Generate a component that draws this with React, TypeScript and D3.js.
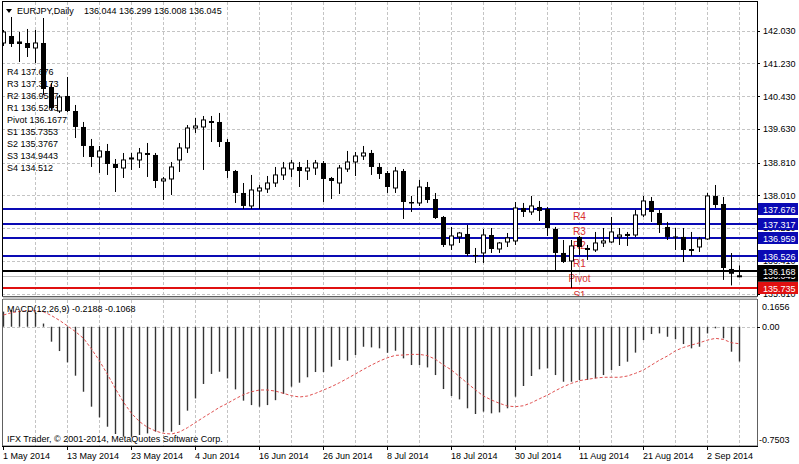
import React, { useEffect, useRef } from 'react';
import * as d3 from 'd3';

// daily EURJPY candles, 1 May 2014 .. 8 Sep 2014
const opens = [
  141.730, 141.901, 141.767, 141.730, 141.608, 141.730, 140.655, 140.069, 140.436, 140.069,
  139.679, 139.215, 138.946, 139.093, 138.775, 138.677, 138.897, 138.873, 139.044, 138.995,
  138.360, 138.409, 138.873, 139.166, 139.654, 139.679, 139.825, 139.801, 139.312, 138.604,
  138.067, 137.750, 138.116, 138.165, 138.311, 138.507, 138.653, 138.702, 138.604, 138.677,
  138.800, 138.433, 138.311, 138.653, 138.824, 138.970, 139.044, 138.702, 138.555, 138.189,
  138.604, 137.847, 137.823, 138.213, 137.920, 137.481, 136.797, 136.993, 137.066, 136.553,
  136.602, 137.041, 136.699, 136.870, 136.895, 137.701, 137.603, 137.725, 137.676, 137.188,
  136.602, 136.406, 136.993, 136.724, 136.675, 136.846, 136.870, 136.993, 137.029, 137.041,
  137.530, 137.872, 137.578, 137.237, 137.005, 136.993, 136.699, 136.748, 136.944, 137.994,
  137.798, 136.211, 136.044,
];
const highs = [
  142.047, 142.365, 141.999, 142.072, 142.047, 142.340, 140.753, 140.460, 140.900, 140.216,
  139.801, 139.386, 139.215, 139.264, 138.897, 139.044, 139.044, 139.166, 139.288, 139.044,
  138.458, 138.824, 139.288, 139.727, 139.898, 139.947, 139.947, 140.021, 139.386, 138.629,
  138.311, 138.507, 138.262, 138.482, 138.702, 138.824, 138.873, 138.824, 138.873, 138.873,
  138.848, 138.458, 138.751, 139.093, 139.068, 139.215, 139.117, 138.800, 138.604, 138.702,
  138.653, 137.994, 138.384, 138.336, 138.067, 137.505, 137.237, 137.115, 137.285, 136.724,
  137.188, 137.212, 136.870, 137.090, 137.847, 137.823, 137.994, 137.872, 137.725, 137.237,
  136.919, 136.919, 137.017, 136.797, 137.115, 137.212, 137.481, 137.212, 137.115, 137.652,
  137.994, 137.969, 137.652, 137.359, 137.212, 137.212, 137.115, 136.993, 138.067, 138.262,
  137.969, 136.600, 136.299,
];
const lows = [
  141.657, 141.632, 141.266, 141.388, 141.242, 140.460, 140.094, 140.021, 140.045, 139.410,
  138.946, 138.702, 138.555, 138.507, 138.091, 138.433, 138.629, 138.677, 138.458, 138.189,
  137.896, 138.018, 138.580, 139.044, 139.532, 138.629, 139.312, 139.190, 138.433, 137.823,
  137.676, 137.676, 137.676, 138.067, 138.213, 138.384, 138.458, 138.213, 138.384, 138.507,
  137.847, 137.920, 138.043, 138.580, 138.482, 138.873, 138.507, 138.409, 138.067, 138.067,
  137.432, 137.603, 137.750, 137.823, 137.432, 136.748, 136.675, 136.846, 136.528, 136.358,
  136.358, 136.602, 136.602, 136.748, 136.797, 137.481, 137.530, 137.383, 137.017, 136.138,
  136.358, 135.747, 136.553, 136.431, 136.626, 136.748, 136.846, 136.797, 136.773, 136.993,
  137.481, 137.359, 137.090, 136.919, 136.675, 136.382, 136.528, 136.626, 136.919, 137.701,
  135.944, 135.809, 136.008,
];
const closes = [
  141.999, 141.706, 141.706, 141.608, 141.730, 140.607, 140.143, 140.411, 140.069, 139.679,
  139.215, 138.946, 139.093, 138.775, 138.677, 138.873, 138.922, 139.044, 138.995, 138.360,
  138.409, 138.702, 139.166, 139.654, 139.703, 139.850, 139.776, 139.312, 138.604, 138.067,
  137.750, 138.140, 138.189, 138.311, 138.507, 138.677, 138.800, 138.604, 138.677, 138.800,
  138.409, 138.360, 138.677, 138.824, 138.970, 139.044, 138.702, 138.531, 138.213, 138.604,
  137.847, 137.810, 138.213, 137.896, 137.456, 136.797, 137.017, 137.090, 136.577, 136.541,
  137.041, 136.699, 136.846, 136.968, 137.701, 137.603, 137.750, 137.627, 137.212, 136.602,
  136.382, 136.773, 136.748, 136.675, 136.846, 136.895, 137.115, 137.041, 137.054, 137.530,
  137.872, 137.603, 137.285, 136.993, 136.980, 136.675, 136.651, 136.944, 137.994, 137.774,
  136.235, 136.094, 136.045,
];

// MACD(12,26,9): main (histogram) and signal (dotted)
const macdMain = [
  0.095, 0.105, 0.100, 0.095, 0.090, 0.020, -0.094, -0.153, -0.224, -0.308,
  -0.409, -0.503, -0.570, -0.629, -0.675, -0.692, -0.692, -0.681, -0.671, -0.660,
  -0.660, -0.660, -0.618, -0.528, -0.451, -0.360, -0.297, -0.283, -0.325, -0.394,
  -0.465, -0.493, -0.503, -0.493, -0.462, -0.423, -0.377, -0.352, -0.318, -0.285,
  -0.285, -0.251, -0.209, -0.214, -0.178, -0.126, -0.130, -0.136, -0.164, -0.151,
  -0.199, -0.241, -0.241, -0.256, -0.304, -0.392, -0.436, -0.457, -0.513, -0.549,
  -0.534, -0.545, -0.539, -0.513, -0.440, -0.373, -0.310, -0.268, -0.262, -0.304,
  -0.346, -0.346, -0.335, -0.335, -0.325, -0.304, -0.272, -0.247, -0.220, -0.163,
  -0.084, -0.046, -0.042, -0.063, -0.079, -0.109, -0.136, -0.126, -0.042, -0.010,
  -0.073, -0.157, -0.2188,
];
const macdSignal = [
  0.074, 0.088, 0.097, 0.100, 0.100, 0.094, 0.070, 0.040, 0.005, -0.031,
  -0.073, -0.140, -0.215, -0.300, -0.390, -0.475, -0.545, -0.597, -0.633, -0.656,
  -0.671, -0.675, -0.662, -0.635, -0.603, -0.570, -0.539, -0.507, -0.482, -0.453,
  -0.427, -0.409, -0.398, -0.398, -0.405, -0.419, -0.434, -0.442, -0.436, -0.419,
  -0.398, -0.377, -0.352, -0.325, -0.297, -0.268, -0.241, -0.216, -0.195, -0.180,
  -0.178, -0.174, -0.174, -0.182, -0.205, -0.241, -0.272, -0.314, -0.356, -0.398,
  -0.436, -0.461, -0.482, -0.499, -0.503, -0.497, -0.478, -0.453, -0.430, -0.402,
  -0.377, -0.356, -0.339, -0.331, -0.323, -0.318, -0.318, -0.318, -0.310, -0.293,
  -0.272, -0.241, -0.210, -0.184, -0.151, -0.130, -0.115, -0.101, -0.084, -0.073,
  -0.080, -0.101, -0.1068,
];

const pivotNames = ['R4', 'R3', 'R2', 'R1', 'Pivot', 'S1', 'S2', 'S3', 'S4'];
const pivotValues = [137.676, 137.3173, 136.9587, 136.5263, 136.1677, 135.7353, 135.3767, 134.9443, 134.512];
const pivotColors = ['#0a0ab4', '#0a0ab4', '#0a0ab4', '#0a0ab4', '#000000', '#e01010'];

const priceTicks = [142.03, 141.23, 140.43, 139.63, 138.81, 138.01, 137.21, 136.41, 135.61];
const bidPrice = 136.045;

const dateTickIdx = [0, 8, 16, 24, 32, 40, 48, 56, 64, 72, 80, 88];
const dateTickLabels = [
  '1 May 2014', '13 May 2014', '23 May 2014', '4 Jun 2014', '16 Jun 2014', '26 Jun 2014',
  '8 Jul 2014', '18 Jul 2014', '30 Jul 2014', '11 Aug 2014', '21 Aug 2014', '2 Sep 2014',
];

const FONT = '"Liberation Sans", Arial, sans-serif';

const App: React.FC = () => {
  const ref = useRef<SVGSVGElement | null>(null);

  useEffect(() => {
    if (!ref.current) return;
    const svg = d3.select(ref.current);
    svg.selectAll('*').remove();

    const left = 2, right = 757, top = 2, mainBottom = 296;
    const macdTop = 300, macdBottom = 446;
    const n = closes.length;

    const x = d3.scaleLinear().domain([0, n - 1]).range([3, 3 + 8 * (n - 1)]);
    const y = d3.scaleLinear().domain([135.551, 142.731]).range([mainBottom, top]);
    const ym = d3.scaleLinear().domain([-0.7503, 0.1656]).range([macdBottom, 300.4]);
    const fmt3 = d3.format('.3f');

    svg.append('rect').attr('width', 799).attr('height', 464).attr('fill', '#fff');

    const defs = svg.append('defs');
    defs.append('clipPath').attr('id', 'mainClip')
      .append('rect').attr('x', left).attr('y', top).attr('width', right - left).attr('height', mainBottom - top);
    defs.append('clipPath').attr('id', 'macdClip')
      .append('rect').attr('x', left).attr('y', macdTop).attr('width', right - left).attr('height', macdBottom - macdTop);

    const main = svg.append('g').attr('clip-path', 'url(#mainClip)');
    const sub = svg.append('g').attr('clip-path', 'url(#macdClip)');

    // grid
    const gridIdx = d3.range(4, n, 4);
    const gridStyle = (s: any) => s.attr('stroke', '#c4c4c4').attr('stroke-width', 1).attr('stroke-dasharray', '3,2');
    main.selectAll('.hgrid').data(priceTicks).enter().append('line')
      .attr('x1', left).attr('x2', right)
      .attr('y1', d => Math.round(y(d)) + 0.5).attr('y2', d => Math.round(y(d)) + 0.5)
      .call(gridStyle);
    main.selectAll('.vgrid').data(gridIdx).enter().append('line')
      .attr('x1', d => x(d) + 0.5).attr('x2', d => x(d) + 0.5)
      .attr('y1', top).attr('y2', mainBottom)
      .call(gridStyle);
    sub.selectAll('.vgrid').data(gridIdx).enter().append('line')
      .attr('x1', d => x(d) + 0.5).attr('x2', d => x(d) + 0.5)
      .attr('y1', macdTop).attr('y2', macdBottom)
      .call(gridStyle);
    sub.append('line').attr('x1', left).attr('x2', right)
      .attr('y1', Math.round(ym(0)) + 0.5).attr('y2', Math.round(ym(0)) + 0.5)
      .call(gridStyle);

    // pivot list text, left
    main.selectAll('.plist').data(pivotNames).enter().append('text')
      .attr('x', 7).attr('y', (d, i) => 74.5 + 12 * i)
      .attr('font-family', FONT).attr('font-size', 9).attr('fill', '#000')
      .text((d, i) => `${d} ${pivotValues[i]}`);

    // pivot lines
    const shown = pivotValues.slice(0, 6);
    main.append('line').attr('x1', left).attr('x2', right)
      .attr('y1', Math.round(y(bidPrice)) + 0.5).attr('y2', Math.round(y(bidPrice)) + 0.5)
      .attr('stroke', '#bdbdbd').attr('stroke-width', 1);
    main.selectAll('.pline').data(shown).enter().append('line')
      .attr('x1', left).attr('x2', right)
      .attr('y1', d => Math.round(y(d))).attr('y2', d => Math.round(y(d)))
      .attr('stroke', (d, i) => pivotColors[i]).attr('stroke-width', 2);
    main.selectAll('.pname').data(shown).enter().append('text')
      .attr('x', x(72) + 0.5).attr('y', d => y(d) + 11)
      .attr('text-anchor', 'middle')
      .attr('font-family', FONT).attr('font-size', 10).attr('fill', '#d83030')
      .text((d, i) => pivotNames[i]);

    // candles
    const idx = d3.range(n);
    main.selectAll('.wick').data(idx).enter().append('line')
      .attr('x1', i => x(i) + 0.5).attr('x2', i => x(i) + 0.5)
      .attr('y1', i => y(highs[i])).attr('y2', i => y(lows[i]))
      .attr('stroke', '#000').attr('stroke-width', 1);
    main.selectAll('.body').data(idx).enter().append('rect')
      .attr('x', i => (closes[i] >= opens[i] ? x(i) - 1.5 : x(i) - 2))
      .attr('width', i => (closes[i] >= opens[i] ? 4 : 5))
      .attr('y', i => y(Math.max(opens[i], closes[i])))
      .attr('height', i => Math.max(1, Math.abs(y(opens[i]) - y(closes[i]))))
      .attr('fill', i => (closes[i] >= opens[i] ? '#fff' : '#000'))
      .attr('stroke', i => (closes[i] >= opens[i] ? '#000' : 'none'))
      .attr('stroke-width', 1);

    // header
    svg.append('path').attr('d', 'M6,9 L12,9 L9,13 Z').attr('fill', '#000');
    svg.append('text').attr('x', 17).attr('y', 14)
      .attr('font-family', FONT).attr('font-size', 9).attr('fill', '#000')
      .text('EURJPY,Daily');
    svg.append('text').attr('x', 84).attr('y', 14)
      .attr('font-family', FONT).attr('font-size', 9).attr('fill', '#000')
      .text([opens[n - 1], highs[n - 1], lows[n - 1], closes[n - 1]].map(fmt3).join(' '));

    // MACD histogram + signal
    sub.selectAll('.hist').data(idx).enter().append('line')
      .attr('x1', i => x(i) + 0.5).attr('x2', i => x(i) + 0.5)
      .attr('y1', ym(0)).attr('y2', i => ym(macdMain[i]))
      .attr('stroke', '#333').attr('stroke-width', 1.4);
    const sigLine = d3.line<number>().x(i => x(i) + 0.5).y(i => ym(macdSignal[i]));
    sub.append('path').attr('d', sigLine(idx) as string)
      .attr('fill', 'none').attr('stroke', '#e05050').attr('stroke-width', 1)
      .attr('stroke-dasharray', '3,2');

    svg.append('text').attr('x', 7).attr('y', 311.5)
      .attr('font-family', FONT).attr('font-size', 9).attr('fill', '#000')
      .text(`MACD(12,26,9) ${macdMain[n - 1].toFixed(4)} ${macdSignal[n - 1].toFixed(4)}`);
    svg.append('text').attr('x', 7).attr('y', 441.5)
      .attr('font-family', FONT).attr('font-size', 9).attr('fill', '#000')
      .text('IFX Trader, © 2001-2014, MetaQuotes Software Corp.');

    // borders
    const border = svg.append('g').attr('fill', 'none').attr('stroke', '#000').attr('stroke-width', 1);
    border.append('rect').attr('x', left + 0.5).attr('y', top - 0.5).attr('width', right - left).attr('height', mainBottom - top + 1);
    svg.append('rect').attr('x', left + 1).attr('y', mainBottom + 1).attr('width', right - left - 1).attr('height', macdTop - mainBottom - 1.5)
      .attr('fill', '#c8c8c8');
    svg.append('line').attr('x1', left).attr('x2', right + 1).attr('y1', mainBottom + 0.5).attr('y2', mainBottom + 0.5)
      .attr('stroke', '#606060');
    border.append('rect').attr('x', left + 0.5).attr('y', macdTop - 0.5).attr('width', right - left).attr('height', macdBottom - macdTop + 0.5)
      .attr('stroke', '#606060');
    border.append('line').attr('x1', left).attr('x2', right + 1).attr('y1', macdBottom + 0.5).attr('y2', macdBottom + 0.5);

    // price axis
    const axisText = (g: any) => g.attr('font-family', FONT).attr('font-size', 9);
    svg.selectAll('.ptick').data(priceTicks).enter().append('line')
      .attr('x1', right).attr('x2', right + 3)
      .attr('y1', d => Math.round(y(d)) + 0.5).attr('y2', d => Math.round(y(d)) + 0.5)
      .attr('stroke', '#000');
    svg.selectAll('.plabel').data(priceTicks).enter().append('text')
      .attr('x', 763).attr('y', d => y(d) + 3.3).attr('fill', '#000')
      .call(axisText).text(d => fmt3(d));

    // bid label, then pivot labels on top
    svg.append('rect').attr('x', 758).attr('y', y(bidPrice) - 6).attr('width', 40).attr('height', 12).attr('fill', '#000');
    svg.append('text').attr('x', 763).attr('y', y(bidPrice) + 3.3).attr('fill', '#fff')
      .call(axisText).text(fmt3(bidPrice));
    svg.selectAll('.pbox').data(shown).enter().append('rect')
      .attr('x', 758).attr('y', d => Math.round(y(d)) - 6).attr('width', 40).attr('height', 12)
      .attr('fill', (d, i) => pivotColors[i]);
    svg.selectAll('.pboxt').data(shown).enter().append('text')
      .attr('x', 763).attr('y', d => Math.round(y(d)) + 3.5).attr('fill', '#fff')
      .call(axisText).text(d => fmt3(d));

    // MACD axis
    svg.append('line').attr('x1', right).attr('x2', right + 3)
      .attr('y1', Math.round(ym(0)) + 0.5).attr('y2', Math.round(ym(0)) + 0.5).attr('stroke', '#000');
    svg.append('text').attr('x', 762).attr('y', 309.5).call(axisText).text('0.1656');
    svg.append('text').attr('x', 762).attr('y', ym(0) + 3.3).call(axisText).text('0.00');
    svg.append('text').attr('x', 759).attr('y', 442.5).call(axisText).text('-0.7503');

    // date axis
    svg.selectAll('.dtick').data(dateTickIdx).enter().append('line')
      .attr('x1', d => x(d) + 0.5).attr('x2', d => x(d) + 0.5)
      .attr('y1', macdBottom).attr('y2', macdBottom + 4).attr('stroke', '#000');
    svg.selectAll('.dlabel').data(dateTickIdx).enter().append('text')
      .attr('x', d => x(d)).attr('y', 458.5)
      .call(axisText).text((d, i) => dateTickLabels[i]);
  }, []);

  return (
    <svg ref={ref} width={799} height={464}
      style={{ position: 'absolute', left: 0, top: 0, display: 'block' }} />
  );
};

export default App;
